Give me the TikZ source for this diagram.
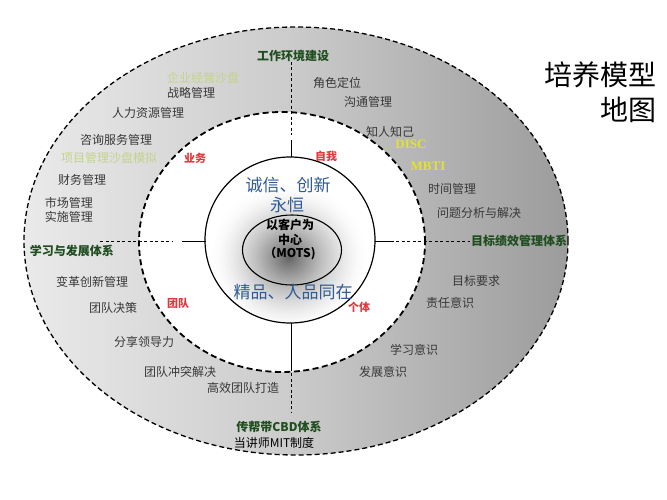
\documentclass[tikz,border=0pt]{standalone}
\usepackage{fontspec}
\setmainfont{Noto Sans CJK SC}
\newfontfamily\latserif{Liberation Serif}
\usetikzlibrary{shapes.geometric}
\definecolor{lbl}{HTML}{383838}
\definecolor{dgreen}{HTML}{1E4D1E}
\definecolor{lgreen}{HTML}{C2D48A}
\definecolor{yel}{HTML}{E2E232}
\definecolor{redone}{HTML}{E0393E}
\definecolor{blueone}{HTML}{2F5C94}
\definecolor{sa}{gray}{0.97}
\definecolor{sb}{gray}{0.80}
\definecolor{sc}{gray}{0.56}
\definecolor{sd}{gray}{0.42}
\definecolor{ma}{gray}{0.92}
\pgfdeclarehorizontalshading{outershade}{100bp}{color(0bp)=(white); color(14bp)=(sa); color(49bp)=(sb); color(82bp)=(sc); color(100bp)=(sd)}
\pgfdeclareradialshading{midshade}{\pgfpoint{0bp}{0bp}}{color(0bp)=(white); color(38bp)=(white); color(50bp)=(ma)}
\begin{document}
\begin{tikzpicture}[x=1pt,y=-1pt,
  lab/.style={font=\fontsize{12}{14}\selectfont, text=lbl, inner sep=0pt},
  sys/.style={font=\fontsize{12}{14}\selectfont\bfseries, text=dgreen, inner sep=0pt},
  hl/.style={lab, text=lgreen},
  yl/.style={inner sep=0pt, text=yel, font=\latserif\fontsize{13}{15}\selectfont\bfseries},
  tag/.style={font=\fontsize{11}{13}\selectfont\bfseries, text=redone, inner sep=0pt},
  core/.style={font=\fontsize{17}{20}\selectfont, text=blueone, inner sep=0pt},
  motstext/.style={font=\fontsize{12}{14}\selectfont\bfseries, text=black, inner sep=0pt},
  ttl/.style={font=\fontsize{28}{32}\selectfont, text=black, inner sep=0pt, anchor=east},
  ring/.style={ellipse, inner sep=0pt, draw=black},
  spoke/.style={line width=0.8pt, draw=black},
  dspoke/.style={spoke, dash pattern=on 3pt off 2.5pt}
]
\useasboundingbox (0,0) rectangle (667,500);
\fill[white] (0,0) rectangle (667,500);
% rings
\node[ring, minimum width=544pt, minimum height=428pt, shading=outershade, line width=1.3pt, dash pattern=on 5pt off 3pt] (outer) at (296,241) {};
\node[ring, minimum width=286pt, minimum height=260pt, shading=midshade, line width=1.8pt, dash pattern=on 6pt off 3.5pt] (mid) at (282,242) {};
\node[ring, minimum width=170pt, minimum height=166pt, fill=white, draw=none] (inner) at (290,240) {};
\begin{scope}
  \clip (290,240) ellipse [x radius=84.3pt, y radius=82.3pt];
  \foreach \i in {1,...,37} {
    \pgfmathsetmacro\rr{75-2*\i}
    \pgfmathsetmacro\xr{1.06*\rr}
    \pgfmathsetmacro\pp{62*(1-\rr/75)^1.6}
    \fill[black!\pp!white] (289,258) ellipse [x radius=\xr pt, y radius=\rr pt];
  }
\end{scope}
\draw[line width=1.2pt] (inner.center) ellipse [x radius=85pt, y radius=83pt];
\node[ring, minimum width=99pt, minimum height=70pt, line width=1.1pt] (mots) at (292,250) {};
% spokes
\coordinate (t1) at (291,62);  \coordinate (t2) at (291,135);
\coordinate (t3) at (291,140); \coordinate (t4) at (291,157.5);
\coordinate (b1) at (291,322.5); \coordinate (b2) at (291,371);
\coordinate (b3) at (291,373); \coordinate (b4) at (291,412);
\coordinate (l1) at (100,241); \coordinate (l2) at (172,241);
\coordinate (l3) at (182,241); \coordinate (l4) at (205.5,241);
\coordinate (r1) at (374.5,241); \coordinate (r2) at (394,241);
\coordinate (r3) at (396,241); \coordinate (r4) at (470,241);
\draw[dspoke] (t1) -- (t2);
\draw[spoke] (t3) -- (t4);
\draw[spoke] (b1) -- (b2);
\draw[dspoke] (b3) -- (b4);
\draw[dspoke] (l1) -- (l2);
\draw[spoke] (l3) -- (l4);
\draw[spoke] (r1) -- (r2);
\draw[dspoke] (r3) -- (r4);
% system labels
\node[sys] (s1) at (293,56) {工作环境建设};
\node[sys] (s2) at (72,251) {学习与发展体系};
\node[sys] (s3) at (519,241) {目标绩效管理体系};
\node[sys] (s4) at (279,427) {传帮带CBD体系};
\node[lab, text=black] (s5) at (274,443) {当讲师MIT制度};
% upper left
\node[hl] (a1) at (203,78) {企业经营沙盘};
\node[lab] (a2) at (191,93) {战略管理};
\node[lab] (a3) at (148,113) {人力资源管理};
\node[lab] (a4) at (116,140) {咨询服务管理};
\node[hl] (a5) at (109,158) {项目管理沙盘模拟};
\node[lab] (a6) at (82,180) {财务管理};
\node[lab] (a7) at (69,203) {市场管理};
\node[lab] (a8) at (69,217) {实施管理};
% lower left
\node[lab] (c1) at (92,282) {变革创新管理};
\node[lab] (c2) at (113,308) {团队决策};
\node[lab] (c3) at (144,342) {分享领导力};
\node[lab] (c4) at (180,372) {团队冲突解决};
\node[lab] (c5) at (243,388) {高效团队打造};
% upper right
\node[lab] (d1) at (337,83) {角色定位};
\node[lab] (d2) at (368,102) {沟通管理};
\node[lab] (d3) at (390,132) {知人知己};
\node[yl] (d4) at (411,144) {DISC};
\node[yl] (d5) at (428,166) {MBTI};
\node[lab] (d6) at (452,189) {时间管理};
\node[lab] (d7) at (479,213) {问题分析与解决};
% lower right
\node[lab] (e1) at (476,281) {目标要求};
\node[lab] (e2) at (450,303) {责任意识};
\node[lab] (e3) at (414,350) {学习意识};
\node[lab] (e4) at (383,372) {发展意识};
% quadrant tags
\node[tag] (q1) at (195,158) {业务};
\node[tag] (q2) at (326,156) {自我};
\node[tag] (q3) at (178,303) {团队};
\node[tag] (q4) at (359,307) {个体};
% core
\node[core] (k1) at (288,185) {诚信、创新};
\node[core] (k2) at (287,205) {永恒};
\node[core] (k3) at (293,292) {精品、人品同在};
\node[motstext] (m1) at (290,225) {以客户为};
\node[motstext] (m2) at (290,240) {中心};
\node[motstext] (m3) at (290,254) {（MOTS)};
% title
\node[ttl] (h1) at (657,75) {培养模型};
\node[ttl] (h2) at (657,110) {地图};
\end{tikzpicture}
\end{document}
